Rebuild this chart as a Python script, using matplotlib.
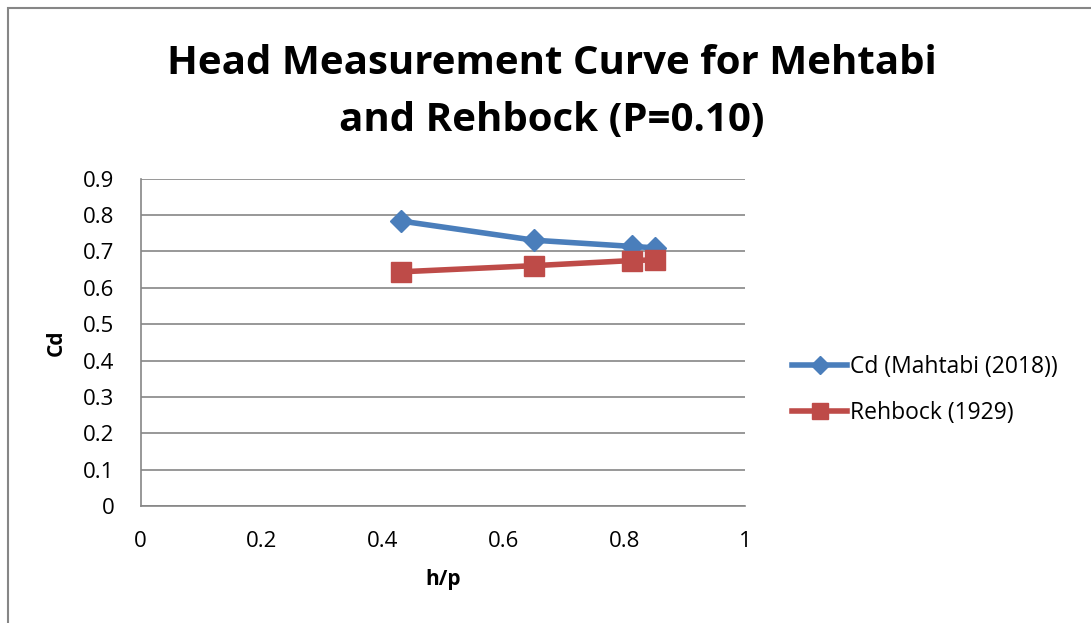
import matplotlib.pyplot as plt
from matplotlib.patches import Rectangle

plt.rcParams['font.family'] = ['Open Sans', 'DejaVu Sans']

# values
h_p = [0.43, 0.651, 0.812, 0.851]
cd_mahtabi = [0.784, 0.731, 0.714, 0.710]
cd_rehbock = [0.644, 0.661, 0.675, 0.677]

blue = '#4a7ebb'
red = '#be4b48'
grid = '#868686'

fig = plt.figure(figsize=(10.91, 6.23), dpi=100)
ax = fig.add_axes([0.129, 0.188, 0.554, 0.525])

ax.plot(h_p, cd_mahtabi, color=blue, lw=4, marker='D', ms=11,
        label='Cd (Mahtabi (2018))')
ax.plot(h_p, cd_rehbock, color=red, lw=4, marker='s', ms=14,
        label='Rehbock (1929)')

ax.set_xlim(0, 1)
ax.set_ylim(0, 0.9)
ax.set_xticks([0, 0.2, 0.4, 0.6, 0.8, 1])
ax.set_xticklabels(['0', '0.2', '0.4', '0.6', '0.8', '1'])
ax.set_yticks([i / 10 for i in range(10)])
ax.set_yticklabels(['0'] + ['%.1f' % (i / 10) for i in range(1, 10)])
ax.yaxis.grid(True, color=grid, lw=1.2)
ax.set_axisbelow(True)
for s in ['top', 'right']:
    ax.spines[s].set_visible(False)
for s in ['left', 'bottom']:
    ax.spines[s].set_color(grid)
    ax.spines[s].set_linewidth(1.2)
ax.tick_params(axis='y', length=0, labelsize=16, pad=19)
ax.tick_params(axis='x', length=0, labelsize=16, pad=18)

ax.set_xlabel('h/p', fontsize=15, fontweight='bold', labelpad=12)
ax.set_ylabel('Cd', fontsize=15, fontweight='bold', labelpad=12)

fig.text(0.506, 0.852, 'Head Measurement Curve for Mehtabi\nand Rehbock (P=0.10)',
         ha='center', va='center', fontsize=29, fontweight='bold', linespacing=1.6)

ax.legend(loc='center left', bbox_to_anchor=(1.078, 0.355), frameon=False,
          fontsize=16.5, handlelength=2.4, handletextpad=0.1, labelspacing=0.95,
          borderpad=0, borderaxespad=0, markerscale=0.85)

# outer chart border
fig.patches.append(Rectangle((8 / 1091, -0.1), 1.2, 1 - 8 / 623 + 0.1,
                             transform=fig.transFigure, fill=False,
                             edgecolor=grid, lw=1.5))

fig.savefig('out.png', dpi=100)
